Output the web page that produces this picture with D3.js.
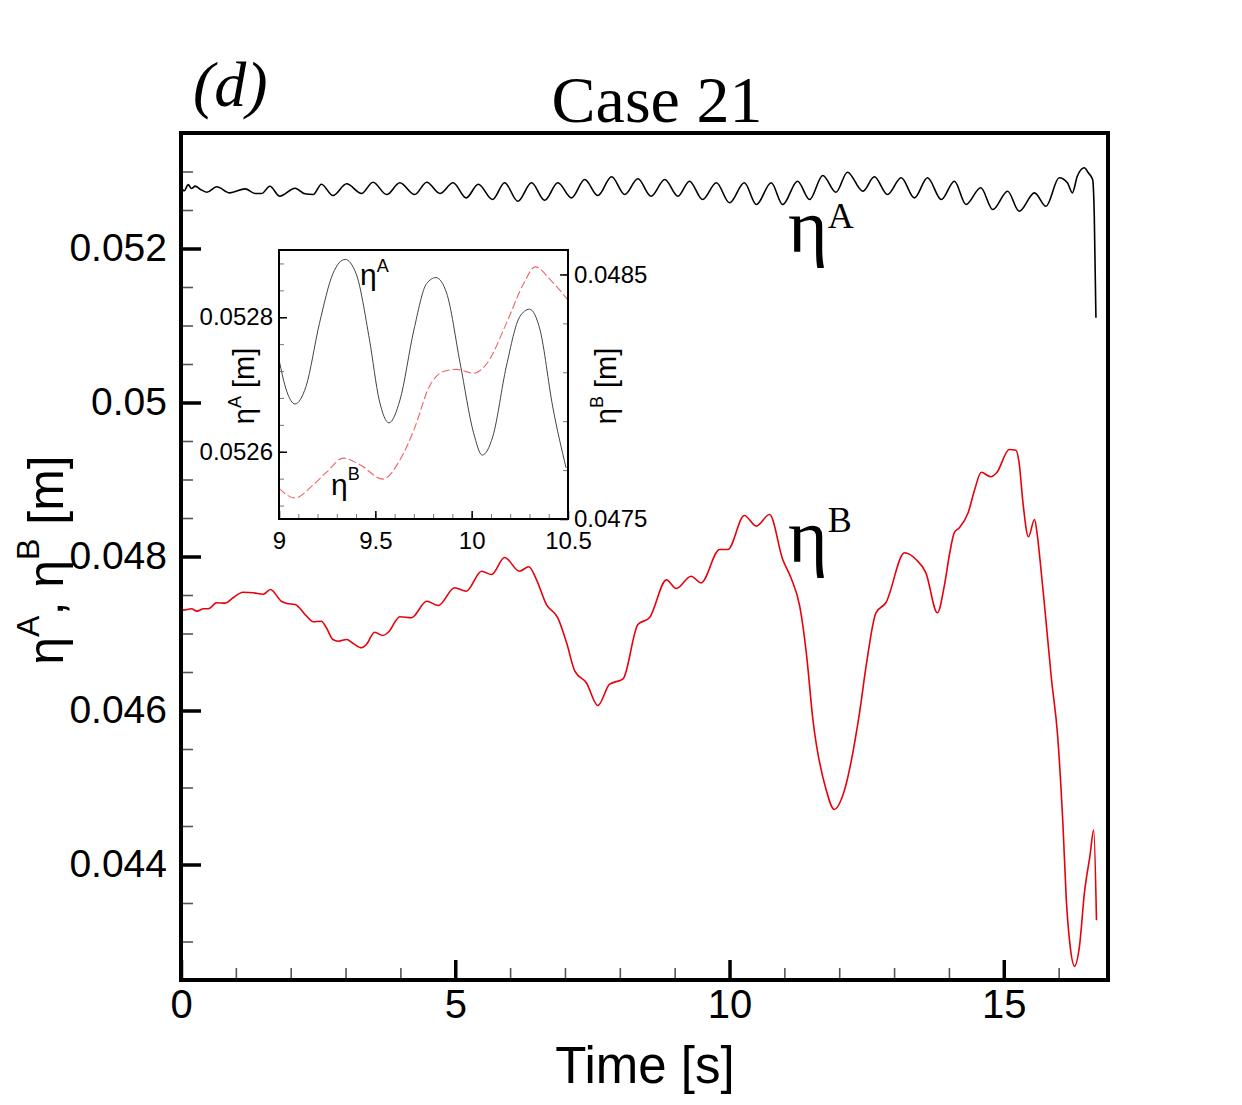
<!DOCTYPE html>
<html>
<head>
<meta charset="utf-8">
<script src="https://cdn.jsdelivr.net/npm/d3@7"></script>
<style>
  body { margin: 0; background: #fff; }
</style>
</head>
<body>
<svg width="1242" height="1105"></svg>
<script>
// eta^A at probe A (black) at peaks / troughs
var timeA = [0.00, 0.06, 0.13, 0.19, 0.26, 0.35, 0.47, 0.65, 0.89, 1.17, 1.35, 1.47, 1.62, 1.80,
  2.08, 2.26, 2.41, 2.56, 2.77, 3.02, 3.29, 3.50, 3.75, 3.99, 4.26, 4.48, 4.72, 4.96, 5.20, 5.42,
  5.68, 5.90, 6.14, 6.39, 6.63, 6.87, 7.12, 7.36, 7.60, 7.85, 8.09, 8.33, 8.57, 8.82, 9.06, 9.27,
  9.51, 9.76, 10.00, 10.27, 10.49, 10.76, 10.97, 11.24, 11.46, 11.70, 11.94, 12.15, 12.43, 12.64,
  12.88, 13.13, 13.37, 13.61, 13.86, 14.10, 14.31, 14.58, 14.80, 15.07, 15.28, 15.56, 15.77, 16.01,
  16.16, 16.25, 16.34, 16.47, 16.54, 16.62, 16.65, 16.68];
var etaA = [0.05279, 0.05275, 0.05283, 0.05278, 0.05281, 0.05277, 0.052731, 0.052801, 0.052723,
  0.052775, 0.052714, 0.052714, 0.052809, 0.052679, 0.052783, 0.052710, 0.052701, 0.052835, 0.052688,
  0.052840, 0.052714, 0.052861, 0.052701, 0.052853, 0.052701, 0.052861, 0.052714, 0.052853, 0.052658,
  0.052835, 0.052636, 0.052853, 0.052614, 0.052853, 0.052627, 0.052853, 0.052658, 0.052896, 0.052688,
  0.052931, 0.052701, 0.052905, 0.052679, 0.052896, 0.052679, 0.052874, 0.052636, 0.052853, 0.052594,
  0.052853, 0.052571, 0.052853, 0.052571, 0.052874, 0.052636, 0.052948, 0.052731, 0.052991, 0.052744,
  0.052931, 0.052701, 0.052918, 0.052658, 0.052918, 0.052636, 0.052874, 0.052571, 0.052788, 0.052506,
  0.052744, 0.052484, 0.052723, 0.052549, 0.052918, 0.052853, 0.052723, 0.052939, 0.053048, 0.052983,
  0.052896, 0.052419, 0.051100];

// eta^B at probe B (red)
var timeB = [0.00, 0.04, 0.19, 0.29, 0.41, 0.50, 0.65, 0.80, 0.95, 1.13, 1.32, 1.50, 1.63, 1.83,
  1.93, 2.08, 2.29, 2.41, 2.56, 2.65, 2.77, 2.87, 3.02, 3.14, 3.29, 3.38, 3.53, 3.68, 3.78, 3.99,
  4.20, 4.48, 4.69, 4.99, 5.20, 5.48, 5.66, 5.90, 6.17, 6.34, 6.48, 6.66, 6.87, 7.03, 7.18, 7.39,
  7.60, 7.81, 8.06, 8.33, 8.54, 8.85, 9.03, 9.30, 9.48, 9.82, 9.97, 10.27, 10.49, 10.73, 10.97,
  11.12, 11.28, 11.40, 11.52, 11.76, 11.91, 12.06, 12.37, 12.49, 12.67, 12.85, 13.19, 13.40, 13.58,
  13.79, 13.92, 14.01, 14.10, 14.19, 14.35, 14.47, 14.59, 14.76, 14.87, 15.10, 15.22, 15.28, 15.35,
  15.45, 15.56, 15.61, 15.66, 15.75, 15.87, 15.98, 16.08, 16.14, 16.21, 16.29, 16.38, 16.47, 16.57,
  16.64, 16.69];
var etaB = [0.047310, 0.047303, 0.047321, 0.047290, 0.047321, 0.047321, 0.047399, 0.047394, 0.047464,
  0.047536, 0.047529, 0.047510, 0.047571, 0.047419, 0.047390, 0.047377, 0.047225, 0.047152, 0.047160,
  0.047074, 0.046922, 0.046900, 0.046922, 0.046870, 0.046814, 0.046857, 0.047017, 0.046974, 0.047017,
  0.047217, 0.047204, 0.047419, 0.047364, 0.047594, 0.047549, 0.047809, 0.047766, 0.047987, 0.047809,
  0.047866, 0.047701, 0.047377, 0.047204, 0.046879, 0.046510, 0.046360, 0.046065, 0.046338, 0.046412,
  0.047117, 0.047204, 0.047697, 0.047584, 0.047744, 0.047658, 0.048091, 0.048091, 0.048532, 0.048394,
  0.048545, 0.047961, 0.047723, 0.047355, 0.046749, 0.045883, 0.044974, 0.044714, 0.044887, 0.045970,
  0.046575, 0.047269, 0.047399, 0.048048, 0.047961, 0.047788, 0.047269, 0.047636, 0.048026, 0.048312,
  0.048373, 0.048568, 0.048870, 0.049095, 0.049035, 0.049087, 0.049390, 0.049381, 0.049217, 0.048697,
  0.048256, 0.048481, 0.048286, 0.047961, 0.047312, 0.046403, 0.045688, 0.044497, 0.043545, 0.042939,
  0.042679, 0.042939, 0.043632, 0.044108, 0.044446, 0.043277];

// inset, 9 s - 10.5 s
var insetTimeA = [9.00, 9.04, 9.083, 9.14, 9.21, 9.28, 9.343, 9.40, 9.47, 9.52, 9.571, 9.628, 9.70,
  9.766, 9.815, 9.87, 9.94, 10.01, 10.055, 10.11, 10.18, 10.25, 10.30, 10.355, 10.42, 10.49];
var insetEtaA = [0.052737, 0.052690, 0.052671, 0.052697, 0.052791, 0.052865, 0.052886, 0.052865,
  0.052766, 0.052677, 0.052643, 0.052677, 0.052781, 0.052850, 0.052859, 0.052836, 0.052732, 0.052628,
  0.052595, 0.052623, 0.052727, 0.052801, 0.052812, 0.052781, 0.052668, 0.052576];
var insetTimeB = [9.00, 9.083, 9.178, 9.25, 9.334, 9.42, 9.54, 9.628, 9.70, 9.78, 9.85, 9.92, 10.01,
  10.08, 10.18, 10.27, 10.33, 10.41, 10.50];
var insetEtaB = [0.047625, 0.047586, 0.047640, 0.047694, 0.047749, 0.047722, 0.047663, 0.047742,
  0.047864, 0.048041, 0.048102, 0.048112, 0.048096, 0.048137, 0.048300, 0.048463, 0.048531, 0.048477,
  0.048395];

var xTicks = [0, 5, 10, 15];
var yTicks = [0.044, 0.046, 0.048, 0.05, 0.052];
var insetXTicks = [9, 9.5, 10, 10.5];
var insetYTicksA = [0.0526, 0.0528];
var insetYTicksB = [0.0475, 0.0485];

var box = {left: 181, right: 1108, top: 133, bottom: 980};
var inset = {left: 279, right: 568, top: 250, bottom: 519};
var sans = "'Liberation Sans', Arial, sans-serif";
var serif = "'Liberation Serif', 'Times New Roman', serif";

var timeScale = d3.scaleLinear().domain([0, 16.9]).range([box.left, box.right]);
var etaScale  = d3.scaleLinear().domain([0.0425, 0.0535]).range([box.bottom, box.top]);

var insetTime  = d3.scaleLinear().domain([9, 10.5]).range([inset.left, inset.right]);
var insetScaleA = d3.scaleLinear().domain([0.0525, 0.0529]).range([inset.bottom, inset.top]);
var insetScaleB = d3.scaleLinear().domain([0.0475, 0.0486]).range([inset.bottom, inset.top]);

function zip (xs, ys) {
  return xs.map(function (x, i) { return [x, ys[i]]; });
}

function lineFor (xScale, yScale) {
  return d3.line()
    .x(function (d) { return xScale(d[0]); })
    .y(function (d) { return yScale(d[1]); })
    .curve(d3.curveMonotoneX);
}

// style an axis group: drop the domain line, set tick stroke and label font
function styleAxis (g, stroke, width, font, size) {
  g.select('.domain').remove();
  g.selectAll('.tick line').attr('stroke', stroke).attr('stroke-width', width);
  g.attr('font-family', font).attr('font-size', size);
  g.selectAll('.tick text').attr('fill', '#000');
}

var svg = d3.select('svg');

svg.append('rect').attr('width', 1242).attr('height', 1105).attr('fill', '#fff');

// main curves
svg.append('path')
  .attr('d', lineFor(timeScale, etaScale)(zip(timeA, etaA)))
  .attr('fill', 'none')
  .attr('stroke', '#000')
  .attr('stroke-width', 1.6);

svg.append('path')
  .attr('d', lineFor(timeScale, etaScale)(zip(timeB, etaB)))
  .attr('fill', 'none')
  .attr('stroke', '#e8000b')
  .attr('stroke-width', 1.6);

// main axes, ticks pointing in
svg.append('g')
  .attr('transform', 'translate(0,' + box.bottom + ')')
  .call(d3.axisBottom(timeScale).tickValues(d3.range(1, 17)).tickSize(-12).tickFormat(''))
  .call(styleAxis, '#555', 1.6, sans, 10);

svg.append('g')
  .attr('transform', 'translate(0,' + box.bottom + ')')
  .call(d3.axisBottom(timeScale).tickValues(xTicks).tickSize(-20).tickPadding(10))
  .call(styleAxis, '#000', 3.5, sans, 40);

svg.append('g')
  .attr('transform', 'translate(' + box.left + ',0)')
  .call(d3.axisLeft(etaScale).tickValues(d3.range(0, 21).map(function (i) { return 0.043 + i * 0.0005; }))
    .tickSize(-12).tickFormat(''))
  .call(styleAxis, '#555', 1.6, sans, 10);

svg.append('g')
  .attr('transform', 'translate(' + box.left + ',0)')
  .call(d3.axisLeft(etaScale).tickValues(yTicks).tickSize(-20).tickPadding(14)
    .tickFormat(function (d) { return String(d); }))
  .call(styleAxis, '#000', 3.5, sans, 39);

svg.append('rect')
  .attr('x', box.left).attr('y', box.top)
  .attr('width', box.right - box.left).attr('height', box.bottom - box.top)
  .attr('fill', 'none').attr('stroke', '#000').attr('stroke-width', 4);

// titles
svg.append('text')
  .attr('x', 193).attr('y', 106)
  .style('font-family', serif).style('font-style', 'italic').style('font-size', '64px')
  .text('(d)');

svg.append('text')
  .attr('x', 657).attr('y', 122)
  .attr('text-anchor', 'middle')
  .style('font-family', serif).style('font-size', '66px')
  .text('Case 21');

// axis titles
svg.append('text')
  .attr('x', 645).attr('y', 1083)
  .attr('text-anchor', 'middle')
  .style('font-family', sans).style('font-size', '51px')
  .text('Time [s]');

var yTitle = svg.append('text')
  .attr('transform', 'translate(63,560) rotate(-90)')
  .attr('text-anchor', 'middle')
  .style('font-family', sans).style('font-size', '50px');
yTitle.append('tspan').text('η');
yTitle.append('tspan').attr('dy', -24).style('font-size', '32px').text('A');
yTitle.append('tspan').attr('dy', 24).text(', η');
yTitle.append('tspan').attr('dy', -24).style('font-size', '32px').text('B');
yTitle.append('tspan').attr('dy', 24).text(' [m]');

// curve labels
var labelA = svg.append('text').attr('x', 788).attr('y', 252)
  .style('font-family', serif).style('font-size', '76px');
labelA.append('tspan').text('η');
labelA.append('tspan').attr('dy', -24).style('font-size', '36px').text('A');

var labelB = svg.append('text').attr('x', 788).attr('y', 562)
  .style('font-family', serif).style('font-size', '76px');
labelB.append('tspan').text('η');
labelB.append('tspan').attr('dy', -30).style('font-size', '36px').text('B');

// ---- inset ----
svg.append('rect')
  .attr('x', inset.left).attr('y', inset.top)
  .attr('width', inset.right - inset.left).attr('height', inset.bottom - inset.top)
  .attr('fill', '#fff');

svg.append('path')
  .attr('d', lineFor(insetTime, insetScaleA)(zip(insetTimeA, insetEtaA)))
  .attr('fill', 'none')
  .attr('stroke', '#444')
  .attr('stroke-width', 1);

svg.append('path')
  .attr('d', lineFor(insetTime, insetScaleB)(zip(insetTimeB, insetEtaB)))
  .attr('fill', 'none')
  .attr('stroke', '#f06464')
  .attr('stroke-width', 1.1)
  .attr('stroke-dasharray', '8,3');

svg.append('g')
  .attr('transform', 'translate(0,' + inset.bottom + ')')
  .call(d3.axisBottom(insetTime).tickValues(d3.range(91, 105).map(function (i) { return i / 10; }))
    .tickSize(-5).tickFormat(''))
  .call(styleAxis, '#777', 1, sans, 10);

svg.append('g')
  .attr('transform', 'translate(0,' + inset.bottom + ')')
  .call(d3.axisBottom(insetTime).tickValues(insetXTicks).tickSize(-8).tickPadding(13)
    .tickFormat(function (d) { return String(d); }))
  .call(styleAxis, '#000', 1.5, sans, 24);

svg.append('g')
  .attr('transform', 'translate(' + inset.left + ',0)')
  .call(d3.axisLeft(insetScaleA).tickValues(d3.range(0, 10).map(function (i) { return 0.05252 + i * 0.00004; }))
    .tickSize(-5).tickFormat(''))
  .call(styleAxis, '#777', 1, sans, 10);

svg.append('g')
  .attr('transform', 'translate(' + inset.left + ',0)')
  .call(d3.axisLeft(insetScaleA).tickValues(insetYTicksA).tickSize(-8).tickPadding(6)
    .tickFormat(function (d) { return String(d); }))
  .call(styleAxis, '#000', 1.5, sans, 24);

svg.append('g')
  .attr('transform', 'translate(' + inset.right + ',0)')
  .call(d3.axisRight(insetScaleB).tickValues(d3.range(0, 6).map(function (i) { return 0.0475 + i * 0.0002; }))
    .tickSize(-5).tickFormat(''))
  .call(styleAxis, '#777', 1, sans, 10);

svg.append('g')
  .attr('transform', 'translate(' + inset.right + ',0)')
  .call(d3.axisRight(insetScaleB).tickValues(insetYTicksB).tickSize(-8).tickPadding(6)
    .tickFormat(function (d) { return String(d); }))
  .call(styleAxis, '#000', 1.5, sans, 24);

svg.append('rect')
  .attr('x', inset.left).attr('y', inset.top)
  .attr('width', inset.right - inset.left).attr('height', inset.bottom - inset.top)
  .attr('fill', 'none').attr('stroke', '#000').attr('stroke-width', 2);

// inset axis titles
var insetTitleA = svg.append('text')
  .attr('transform', 'translate(254,386) rotate(-90)')
  .attr('text-anchor', 'middle')
  .style('font-family', sans).style('font-size', '29px');
insetTitleA.append('tspan').text('η');
insetTitleA.append('tspan').attr('dy', -13).style('font-size', '18px').text('A');
insetTitleA.append('tspan').attr('dy', 13).text(' [m]');

var insetTitleB = svg.append('text')
  .attr('transform', 'translate(616,386) rotate(-90)')
  .attr('text-anchor', 'middle')
  .style('font-family', sans).style('font-size', '29px');
insetTitleB.append('tspan').text('η');
insetTitleB.append('tspan').attr('dy', -13).style('font-size', '18px').text('B');
insetTitleB.append('tspan').attr('dy', 13).text(' [m]');

// inset curve labels
var insetLabelA = svg.append('text').attr('x', 360).attr('y', 285)
  .style('font-family', sans).style('font-size', '30px');
insetLabelA.append('tspan').text('η');
insetLabelA.append('tspan').attr('dy', -13).style('font-size', '18px').text('A');

var insetLabelB = svg.append('text').attr('x', 331).attr('y', 495)
  .style('font-family', sans).style('font-size', '30px');
insetLabelB.append('tspan').text('η');
insetLabelB.append('tspan').attr('dy', -15).style('font-size', '18px').text('B');
</script>
</body>
</html>
